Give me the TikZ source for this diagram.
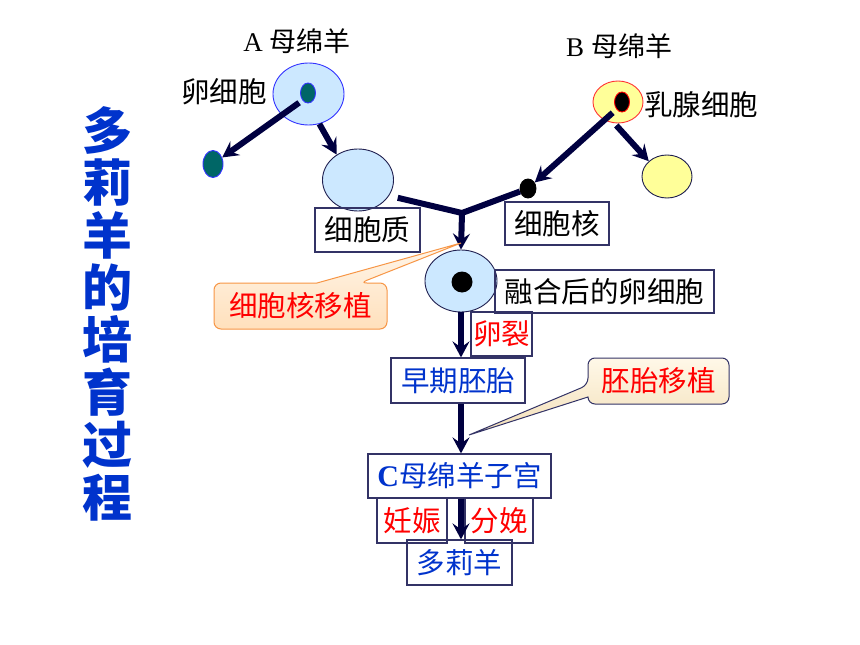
\documentclass[tikz,border=0pt]{standalone}
\usepackage{fontspec}
\setmainfont{Liberation Serif}
\newfontfamily\cjk{Noto Sans CJK SC}
\usetikzlibrary{arrows.meta,calc,shapes.geometric}
\definecolor{arrnavy}{HTML}{000040}
\definecolor{boxc}{HTML}{333366}
\definecolor{cellblue}{HTML}{CCE8FF}
\definecolor{celledge}{HTML}{202050}
\definecolor{blueedge}{HTML}{3333FF}
\definecolor{tealc}{HTML}{006666}
\definecolor{yellc}{HTML}{FFFF99}
\definecolor{txtblue}{HTML}{0033CC}
\definecolor{txtred}{HTML}{FF0000}
\definecolor{orangeedge}{HTML}{F79646}
\definecolor{cotop}{HTML}{FFF6EA}
\definecolor{cobot}{HTML}{FFE0BC}
\definecolor{cttop}{HTML}{FFF8E8}
\definecolor{ctbot}{HTML}{F3DFB8}
\begin{document}
\begin{tikzpicture}[x=1pt,y=-1pt,
  arr/.style={line width=6pt, draw=arrnavy, -{Stealth[length=16pt,width=17pt,inset=6pt]}},
  conn/.style={line width=6pt, draw=arrnavy, line join=miter},
  cell/.style={ellipse, inner sep=0pt, line width=0.9pt},
  lbl/.style={inner sep=0pt, font=\cjk\fontsize{28.5}{30}\selectfont},
  sheep/.style={inner sep=0pt, font=\fontsize{27}{28}\selectfont},
  bx/.style={draw=boxc, line width=1.2pt, inner sep=0pt, minimum height=44pt, font=\cjk\fontsize{28.5}{30}\selectfont},
  calltext/.style={inner sep=0pt, text=txtred, font=\cjk\fontsize{28.5}{30}\selectfont}
]
\fill[white] (0,0) rectangle (860,645);
\useasboundingbox (0,0) rectangle (860,645);

% title
\node[inner sep=0pt, text=txtblue, align=center,
      font=\cjk\bfseries\fontsize{50}{52.4}\selectfont] (title) at (107,313.5)
  {多\\莉\\羊\\的\\培\\育\\过\\程};

% sheep labels
\node[sheep] (alabel) at (297,41) {A\hspace{7pt}{\cjk 母绵羊}};
\node[sheep] (blabel) at (619,46) {B\hspace{7pt}{\cjk 母绵羊}};
\node[lbl] (eggl) at (224,92) {卵细胞};
\node[lbl] (mamm) at (701,105) {乳腺细胞};

% cells of A
\node[cell, fill=cellblue, draw=blueedge, minimum width=71pt, minimum height=62pt] (acell) at (308.5,94) {};
\node[cell, fill=tealc, draw=blueedge, minimum width=15pt, minimum height=20pt] (anuc) at (308,93) {};
\node[cell, fill=tealc, draw=blueedge, minimum width=20pt, minimum height=27pt] (teal) at (213,164) {};
\node[cell, fill=cellblue, draw=celledge, minimum width=71pt, minimum height=62pt] (cyto) at (358,180) {};

% cells of B
\node[cell, fill=yellc, draw=red!80, minimum width=50pt, minimum height=42pt] (bcell) at (618,102) {};
\node[cell, fill=black, draw=red, minimum width=15pt, minimum height=20pt] (Bnuc) at (622,102) {};
\node[cell, fill=yellc, draw=celledge, minimum width=50pt, minimum height=43pt] (ycell) at (667,176.5) {};
\node[cell, fill=black, draw=black, minimum width=16pt, minimum height=19pt] (bnuc) at (528,188.5) {};

% fused egg
\node[cell, fill=cellblue, draw=celledge, minimum width=72pt, minimum height=62pt] (fuse) at (461,281) {};
\node[circle, fill=black, inner sep=0pt, minimum size=21pt] (fnuc) at (462,282) {};

% boxes
\node[bx, minimum width=105pt] (cytobox) at (367.5,230) {细胞质};
\node[bx, minimum width=104pt, minimum height=43pt] (nucbox) at (557,223.5) {细胞核};
\node[bx, minimum width=219pt, minimum height=43pt] (fusebox) at (604.5,291.5) {融合后的卵细胞};
\node[bx, minimum width=61pt, text=txtred] (cleave) at (501.5,334) {卵裂};
\node[bx, minimum width=134pt, minimum height=45pt, text=txtblue] (early) at (458,380.5) {早期胚胎};
\node[bx, minimum width=183pt, text=txtblue] (cbox) at (459.5,476) {{\rmfamily\bfseries\fontsize{30}{30}\selectfont C}母绵羊子宫};
\node[bx, minimum width=70pt, minimum height=45pt, text=txtred] (preg) at (412,520.5) {妊娠};
\node[bx, minimum width=68pt, minimum height=45pt, text=txtred] (birth) at (499,520.5) {分娩};
\node[bx, minimum width=105pt, minimum height=45pt, text=txtblue] (dolly) at (459.5,562.5) {多莉羊};

% arrows from A and B
\draw[arr, shorten <=4pt] (anuc.south west) -- (teal);
\draw[arr] (acell.-70) -- (cyto.130);
\draw[arr, shorten <=5pt] (Bnuc.south west) -- (bnuc);
\draw[arr, shorten <=3pt] (bcell.-100) -- (ycell.140);

% junction
\coordinate (junc) at (462,213);
\draw[conn] ([shift={(8,3)}]cyto.-25) -- (junc) -- (bnuc);
\draw[arr] (junc) -- (fuse.north);

% vertical chain
\draw[arr] (fuse.south) -- (fuse.south |- early.north);
\draw[arr] (early.south -| fuse) -- (cbox.north -| fuse);
\draw[arr] (cbox.south -| fuse) -- (dolly.north -| fuse);

% callout 1
\coordinate (tip1) at (461,243);
\draw[draw=orangeedge, line width=1pt, top color=cotop, bottom color=cobot]
  (tip1) -- (317,283) {[rounded corners=7pt] -- (214,283) -- (214,329) -- (387,329) -- (387,283) -- (360,283)} -- cycle;
\node[calltext] (call1) at (300.5,306) {细胞核移植};

% callout 2
\coordinate (tip2) at (469,435);
\draw[draw=boxc, line width=1pt, top color=cttop, bottom color=ctbot]
  (tip2) -- (588,397) {[rounded corners=7pt] -- (588,404) -- (729,404) -- (729,358) -- (588,358) -- (588,385)} -- cycle;
\node[calltext] (call2) at (658.5,381) {胚胎移植};
\end{tikzpicture}
\end{document}
